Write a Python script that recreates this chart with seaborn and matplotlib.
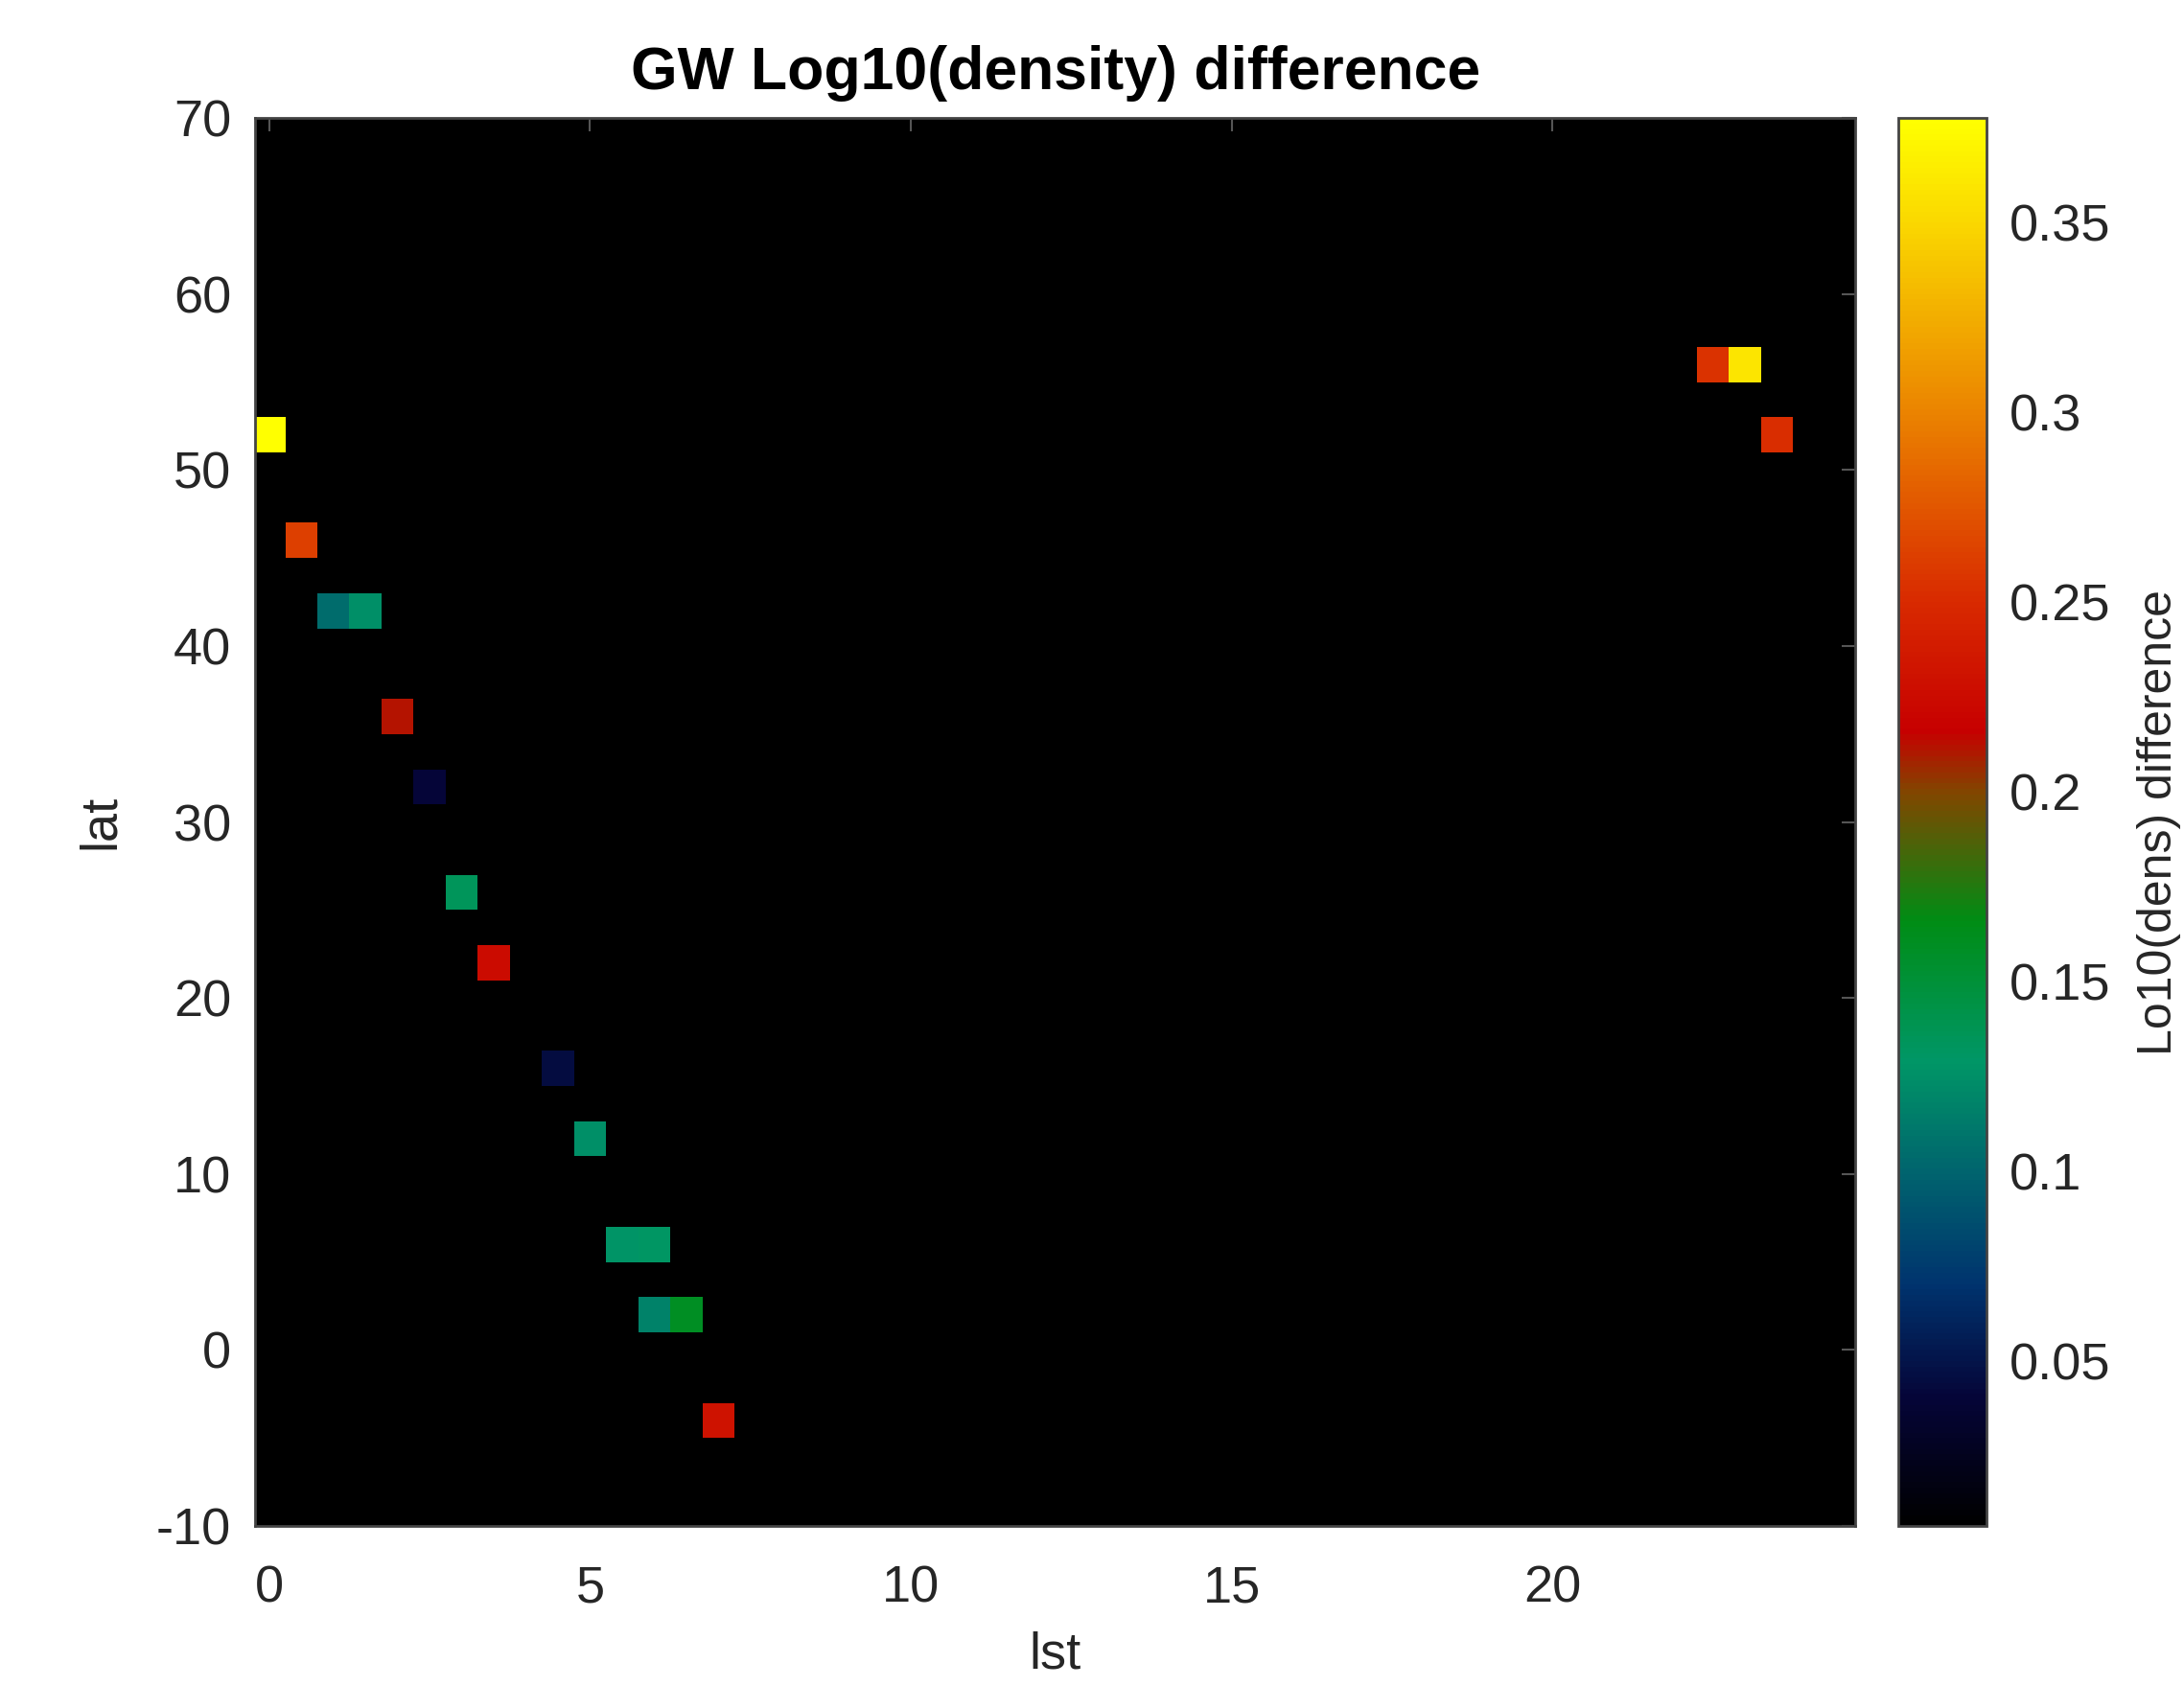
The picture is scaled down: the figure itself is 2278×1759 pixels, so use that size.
import numpy as np
import pandas as pd
import matplotlib
matplotlib.use("Agg")
import matplotlib.pyplot as plt
import seaborn as sns
from matplotlib.colors import LinearSegmentedColormap

# ---- data ----
cell_lst = [0.0, 0.5, 1.0, 1.5, 2.0, 2.5, 3.0, 3.5, 4.0, 4.5, 5.0, 5.5, 6.0, 6.0, 6.5, 7.0, 22.5, 23.0, 23.5]
cell_lat = [52, 46, 42, 42, 36, 32, 26, 22, 22, 16, 12, 6, 6, 2, 2, -4, 56, 56, 52]
cell_val = [0.3776, 0.262, 0.105, 0.125, 0.212, 0.040, 0.135, 0.225, 0.0066, 0.045,
            0.125, 0.127, 0.130, 0.118, 0.160, 0.230, 0.255, 0.360, 0.252]
lst_grid = list(np.arange(0, 25, 0.5))
lat_grid = list(range(-10, 72, 2))
x_ticks = [0, 5, 10, 15, 20]
y_ticks = [-10, 0, 10, 20, 30, 40, 50, 60, 70]
cbar_ticks = [0.05, 0.1, 0.15, 0.2, 0.25, 0.3, 0.35]
vmin, vmax = 0.0066, 0.3776

df = pd.DataFrame({"lst": cell_lst, "lat": cell_lat, "val": cell_val})
grid = df.pivot_table(index="lat", columns="lst", values="val").reindex(index=lat_grid, columns=lst_grid)

stops = [(0.0, (0, 0, 0)), (0.09, (0.02, 0.02, 0.22)), (0.17, (0.0, 0.2, 0.43)),
         (0.25, (0.0, 0.39, 0.43)), (0.33, (0.0, 0.59, 0.40)), (0.43, (0.0, 0.55, 0.08)),
         (0.52, (0.50, 0.28, 0.0)), (0.565, (0.78, 0.0, 0.0)), (0.66, (0.85, 0.17, 0.0)),
         (0.79, (0.92, 0.51, 0.0)), (0.925, (0.98, 0.84, 0.0)), (1.0, (1.0, 1.0, 0.0))]
cmap = LinearSegmentedColormap.from_list("gwcmap", stops)

sns.set_style("white")
plt.rcParams["font.family"] = ["Liberation Sans", "DejaVu Sans"]

fig = plt.figure(figsize=(22.78, 17.59), dpi=100)
ax = fig.add_axes([0.1168, 0.0949, 0.7327, 0.8351])
cax = fig.add_axes([0.8692, 0.0949, 0.0404, 0.8351])
ax.set_facecolor("black")

sns.heatmap(grid, ax=ax, cbar_ax=cax, cmap=cmap, vmin=vmin, vmax=vmax, square=False,
            xticklabels=False, yticklabels=False)

def xpos(v):
    return np.asarray(v) / 0.5 + 0.5

def ypos(v):
    return (np.asarray(v) + 10) / 2 + 0.5

ax.set_xlim(xpos(-0.22), xpos(24.72))
ax.set_ylim(ypos(-10), ypos(70))
ax.set_xticks(xpos(x_ticks))
ax.set_xticklabels([str(t) for t in x_ticks])
ax.set_yticks(ypos(y_ticks))
ax.set_yticklabels([str(t) for t in y_ticks])

tc = "#262626"
ax.tick_params(axis="both", direction="in", length=10, width=1.5, color="#555555",
               labelsize=39, labelcolor=tc, top=True, right=True)
ax.tick_params(axis="x", pad=29)
ax.tick_params(axis="y", pad=18)
for s in ax.spines.values():
    s.set_visible(True)
    s.set_color("#444444")
    s.set_linewidth(2)

ax.set_xlabel("lst", fontsize=39, color=tc, labelpad=14)
ax.set_ylabel("lat", fontsize=39, color=tc, labelpad=24)
ax.set_title("GW Log10(density) difference", fontsize=45, fontweight="bold", color="black", pad=22)

cb = ax.collections[0].colorbar
cb.set_ticks(cbar_ticks)
cb.set_ticklabels(["0.05", "0.1", "0.15", "0.2", "0.25", "0.3", "0.35"])
cax.tick_params(direction="in", length=10, width=1.5, color="#333333", labelsize=39,
                labelcolor=tc, pad=17)
cb.outline.set_visible(True)
cb.outline.set_edgecolor("#444444")
cb.outline.set_linewidth(2)
cb.set_label("Lo10(dens) difference", fontsize=36, color=tc, labelpad=20)

fig.savefig("out.png", dpi=100, facecolor="white")
